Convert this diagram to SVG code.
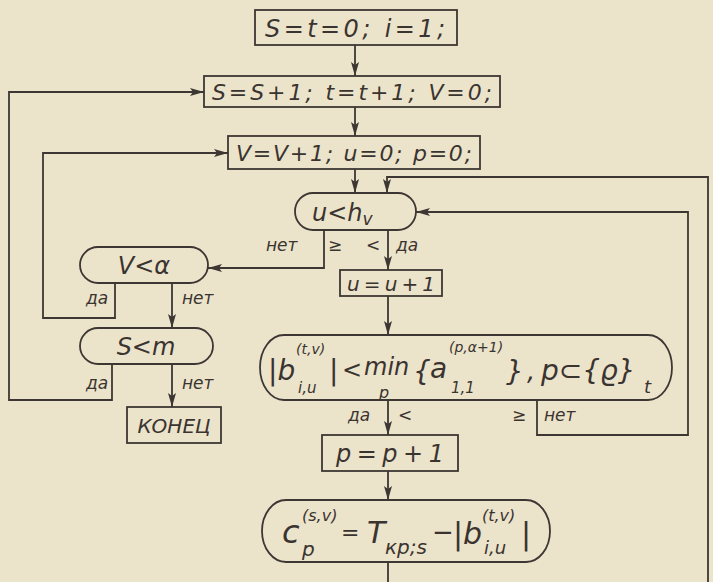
<svg xmlns="http://www.w3.org/2000/svg" width="713" height="582" viewBox="0 0 713 582">
<style>
.bg{fill:#ece3cb}
.box{fill:none;stroke:#3d3733;stroke-width:1.8}
.edge{fill:none;stroke:#3d3733;stroke-width:1.8}
.t{font-family:"DejaVu Sans","Liberation Sans",sans-serif;font-style:italic;fill:#3a3430}
.lbl{font-family:"DejaVu Sans","Liberation Sans",sans-serif;font-style:italic;fill:#3a3430;font-size:17px}
</style>
<defs>
<marker id="arr" viewBox="0 0 14 8" refX="14" refY="4" markerWidth="14" markerHeight="8" markerUnits="userSpaceOnUse" orient="auto">
<path d="M0,0 L14,4 L0,8 L3,4 z" fill="#3d3733"/>
</marker>
</defs>
<rect class="bg" x="0" y="0" width="713" height="582"/>

<g id="edges">
<path class="edge" d="M355,45 V76" marker-end="url(#arr)"/>
<path class="edge" d="M355,107 V136" marker-end="url(#arr)"/>
<path class="edge" d="M355,169 V193" marker-end="url(#arr)"/>
<path class="edge" d="M708,582 V177 H387 V193" marker-end="url(#arr)"/>
<path class="edge" d="M324,230 V268 H208" marker-end="url(#arr)"/>
<path class="edge" d="M388,230 V270" marker-end="url(#arr)"/>
<path class="edge" d="M388,296 V335" marker-end="url(#arr)"/>
<path class="edge" d="M388,400 V435" marker-end="url(#arr)"/>
<path class="edge" d="M537,400 V435 H688 V212 H416" marker-end="url(#arr)"/>
<path class="edge" d="M388,471 V500" marker-end="url(#arr)"/>
<path class="edge" d="M388,562 V582"/>
<path class="edge" d="M115,283 V318 H43 V153 H228" marker-end="url(#arr)"/>
<path class="edge" d="M172,283 V328" marker-end="url(#arr)"/>
<path class="edge" d="M112,364 V400 H9 V92 H204" marker-end="url(#arr)"/>
<path class="edge" d="M172,364 V407" marker-end="url(#arr)"/>
</g>

<g id="edge-labels">
<text class="lbl" x="266" y="251">нет</text>
<text class="lbl" x="328" y="251">≥</text>
<text class="lbl" x="366" y="251">&lt;</text>
<text class="lbl" x="396" y="251">да</text>
<text class="lbl" x="86" y="304">да</text>
<text class="lbl" x="182" y="304">нет</text>
<text class="lbl" x="86" y="389">да</text>
<text class="lbl" x="182" y="389">нет</text>
<text class="lbl" x="348" y="421">да</text>
<text class="lbl" x="398" y="421">&lt;</text>
<text class="lbl" x="512" y="421">≥</text>
<text class="lbl" x="544" y="421">нет</text>
</g>

<g id="n-init">
<rect class="box" x="255" y="10" width="202" height="35"/>
<text class="t" x="265" y="37" font-size="24" textLength="180" lengthAdjust="spacing">S=t=0;  i=1;</text>
</g>

<g id="n-s-step">
<rect class="box" x="204" y="76" width="296" height="31"/>
<text class="t" x="212" y="100" font-size="22" textLength="280" lengthAdjust="spacing">S=S+1; t=t+1;  V=0;</text>
</g>

<g id="n-v-step">
<rect class="box" x="228" y="136" width="252" height="33"/>
<text class="t" x="236" y="161" font-size="22" textLength="236" lengthAdjust="spacing">V=V+1; u=0; p=0;</text>
</g>

<g id="n-u-cond">
<rect class="box" x="295" y="193" width="121" height="37" rx="18" ry="18.5"/>
<text class="t" x="312" y="221" font-size="24">u&lt;h<tspan font-size="17" dy="4">v</tspan></text>
</g>

<g id="n-v-cond">
<rect class="box" x="80" y="247" width="128" height="36" rx="18" ry="18"/>
<text class="t" x="144" y="274" font-size="24" text-anchor="middle">V&lt;α</text>
</g>

<g id="n-u-inc">
<rect class="box" x="340" y="270" width="102" height="26"/>
<text class="t" x="347" y="291" font-size="20" textLength="88" lengthAdjust="spacing">u=u+1</text>
</g>

<g id="n-s-cond">
<rect class="box" x="80" y="328" width="133" height="36" rx="18" ry="18"/>
<text class="t" x="146" y="355" font-size="24" text-anchor="middle">S&lt;m</text>
</g>

<g id="n-end">
<rect class="box" x="127" y="407" width="94" height="36"/>
<text class="t" x="174" y="433" font-size="20" text-anchor="middle">КОНЕЦ</text>
</g>

<g id="n-b-cond">
<rect class="box" x="260" y="335" width="412" height="65" rx="24" ry="32.5"/>
<text class="t" x="268" y="380" font-size="28">|b</text>
<text class="t" x="296" y="354" font-size="14">(t,v)</text>
<text class="t" x="298" y="393" font-size="15">i,u</text>
<text class="t" x="329" y="380" font-size="28">|</text>
<text class="t" x="342" y="378" font-size="24">&lt;</text>
<text class="t" x="364" y="375" font-size="24">min</text>
<text class="t" x="379" y="398" font-size="16">p</text>
<text class="t" x="413" y="381" font-size="28">{</text>
<text class="t" x="430" y="378" font-size="28">a</text>
<text class="t" x="449" y="352" font-size="14">(p,α+1)</text>
<text class="t" x="451" y="393" font-size="15">1,1</text>
<text class="t" x="506" y="381" font-size="28">}</text>
<text class="t" x="527" y="380" font-size="26">,</text>
<text class="t" x="541" y="380" font-size="28">p⊂{ϱ}</text>
<text class="t" x="644" y="393" font-size="18">t</text>
</g>

<g id="n-p-inc">
<rect class="box" x="322" y="435" width="136" height="36"/>
<text class="t" x="336" y="462" font-size="24" textLength="108" lengthAdjust="spacing">p=p+1</text>
</g>

<g id="n-c-calc">
<rect class="box" x="262" y="500" width="288" height="62" rx="24" ry="31"/>
<text class="t" x="282" y="543" font-size="32">c</text>
<text class="t" x="302" y="556" font-size="20">p</text>
<text class="t" x="302" y="521" font-size="16">(s,v)</text>
<text class="t" x="341" y="540" font-size="22">=</text>
<text class="t" x="367" y="543" font-size="30">T</text>
<text class="t" x="385" y="554" font-size="20">кр;s</text>
<text class="t" x="432" y="541" font-size="26">−</text>
<text class="t" x="453" y="544" font-size="30">|b</text>
<text class="t" x="482" y="521" font-size="16">(t,v)</text>
<text class="t" x="484" y="554" font-size="18">i,u</text>
<text class="t" x="521" y="544" font-size="30">|</text>
</g>
</svg>
